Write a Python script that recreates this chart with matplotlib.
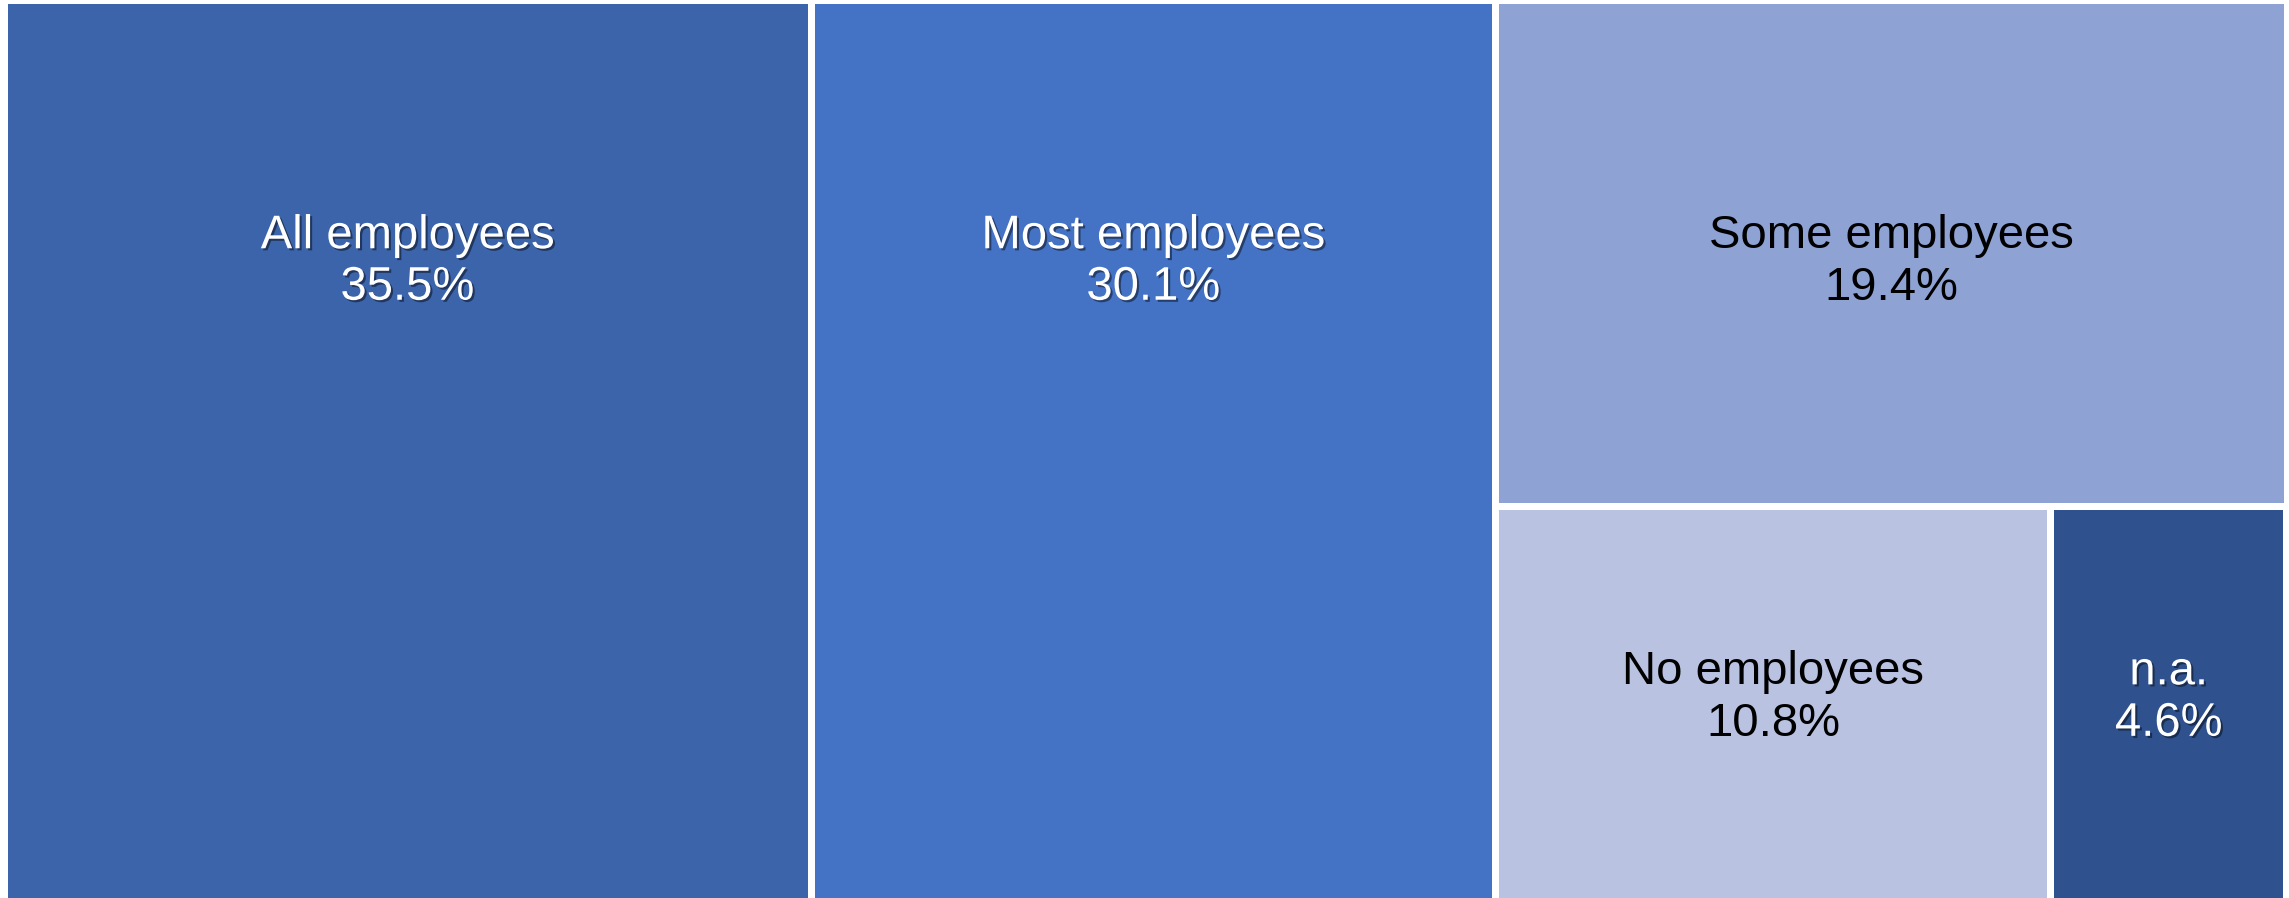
import matplotlib.pyplot as plt
import matplotlib.patheffects as pe
from matplotlib.patches import Rectangle

# share of firms by how many employees are covered
labels = ['All employees', 'Most employees', 'Some employees', 'No employees', 'n.a.']
shares = [35.5, 30.1, 19.4, 10.8, 4.6]
colors = ['#3C64AB', '#4472C4', '#8FA2D4', '#B9C3E1', '#2F528F']
text_colors = ['white', 'white', 'black', 'black', 'white']
shadowed = [True, True, False, False, True]

plt.rcParams['font.family'] = ['Liberation Sans', 'DejaVu Sans']


def worst(row, side):
    s = sum(row)
    return max(max(side * side * r / (s * s), s * s / (side * side * r)) for r in row)


def squarify(areas, x, y, w, h):
    # classic squarified treemap, returns (x, y, w, h) per area
    rects = []
    areas = list(areas)
    while areas:
        side = min(w, h)
        row = [areas[0]]
        i = 1
        while i < len(areas) and worst(row + [areas[i]], side) <= worst(row, side):
            row.append(areas[i])
            i += 1
        areas = areas[i:]
        s = sum(row)
        if w >= h:
            # column along the left edge
            cw = s / h
            yy = y
            for r in row:
                rects.append((x, yy, cw, r / cw))
                yy += r / cw
            x += cw
            w -= cw
        else:
            # row along the top edge
            rh = s / w
            xx = x
            for r in row:
                rects.append((xx, y, r / rh, rh))
                xx += r / rh
            y += rh
            h -= rh
    return rects


W, H = 2283.0, 908.0
total = sum(shares)
areas = [v / total * W * H for v in shares]
rects = squarify(areas, 0, 0, W, H)

fig = plt.figure(figsize=(22.89, 8.98), dpi=100)
ax = fig.add_axes([4 / 2289, 1 - H / 898, W / 2289, H / 898])
ax.set_xlim(0, W)
ax.set_ylim(H, 0)
ax.axis('off')

gap = 3.5
for (x, y, w, h), lab, v, c, tc, sh in zip(rects, labels, shares, colors, text_colors, shadowed):
    ax.add_patch(Rectangle((x + gap, y + gap), w - 2 * gap, h - 2 * gap,
                           facecolor=c, edgecolor='none'))
    # labels sit in the upper part of tall boxes
    ty = y + min(h / 2 + 9, 262)
    if h < H / 2:
        ty -= 18
    effects = None
    if sh:
        effects = [pe.SimplePatchShadow(offset=(1.5, -1.5), shadow_rgbFace='black', alpha=0.45),
                   pe.Normal()]
    ax.text(x + w / 2, ty, f'{lab}\n{v:.1f}%', ha='center', va='center',
            fontsize=34, color=tc, linespacing=1.22, path_effects=effects)

fig.savefig('out.png', dpi=100, facecolor='white')
